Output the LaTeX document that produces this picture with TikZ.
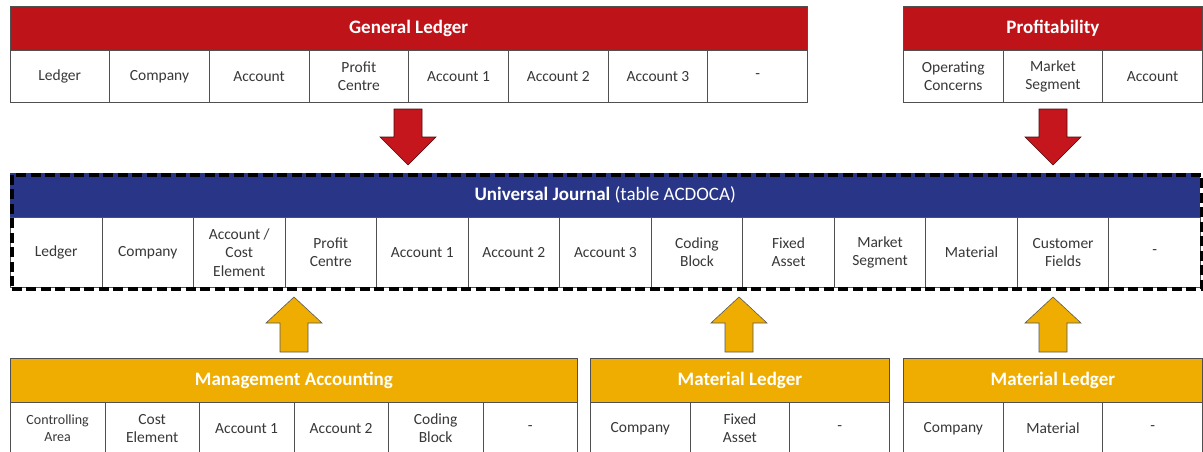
\documentclass[tikz,border=0pt]{standalone}
\usepackage{fontspec}
\setmainfont{Carlito}
\definecolor{glred}{RGB}{191,19,26}
\definecolor{arrred}{RGB}{196,22,28}
\definecolor{ujblue}{RGB}{41,54,136}
\definecolor{magold}{RGB}{238,173,0}
\definecolor{txt}{RGB}{56,56,56}
\definecolor{gridc}{RGB}{80,80,80}
\begin{document}
\begin{tikzpicture}[x=1pt,y=-1pt,
  hdr/.style={draw=gridc, line width=0.8pt, text=white, font=\fontsize{19}{23}\selectfont\bfseries, inner sep=0pt, anchor=north west},
  cell/.style={draw=gridc, line width=0.8pt, fill=white, text=txt, font=\fontsize{15.5}{18.5}\selectfont, align=center, inner sep=0pt, anchor=north west},
  smallcell/.style={cell, font=\fontsize{14}{16.5}\selectfont},
  redarrow/.style={fill=arrred, draw=black!60!arrred, line width=0.6pt, line join=miter},
  goldarrow/.style={fill=magold, draw=black!65, line width=0.6pt, line join=miter},
  dashbox/.style={draw=black, line width=3.6pt, dash pattern=on 10pt off 4.5pt}
]
\useasboundingbox (0,0) rectangle (1203,452);
\clip (0,0) rectangle (1203,452);

% ---------- General Ledger ----------
\node[hdr, fill=glred, minimum width=797.5pt, minimum height=44pt] (gl) at (9.5,6) {General Ledger};
\foreach \t [count=\i from 0] in {Ledger,Company,Account,{Profit\\Centre},Account 1,Account 2,Account 3,-}
  \node[cell, minimum width=99.7pt, minimum height=52pt] (gl\i) at (9.5+99.7*\i,50) {\t};

% ---------- Profitability ----------
\node[hdr, fill=glred, minimum width=299pt, minimum height=44pt] (pa) at (903,6) {Profitability};
\foreach \t [count=\i from 0] in {{Operating\\Concerns},{Market\\Segment},Account}
  \node[cell, minimum width=99.7pt, minimum height=52pt] (pa\i) at (903+99.7*\i,50) {\t};

% ---------- red arrows ----------
\foreach \cx/\nm in {408/ra1,1053/ra2}{
  \coordinate (\nm) at (\cx,109);
  \draw[redarrow] (\cx-14,109) -- (\cx+14,109) -- (\cx+14,137) -- (\cx+28,137) -- (\cx,165)
     -- (\cx-28,137) -- (\cx-14,137) -- cycle;
}

% ---------- Universal Journal ----------
\node[draw=none, fill=ujblue, minimum width=1190pt, minimum height=44pt, inner sep=0pt, anchor=north west,
      text=white, font=\fontsize{19}{23}\selectfont] (uj) at (10,173)
      {\textbf{Universal Journal} (table ACDOCA)};
\foreach \t [count=\i from 0] in {Ledger,Company,{Account /\\Cost\\Element},{Profit\\Centre},Account 1,Account 2,Account 3,{Coding\\Block},{Fixed\\Asset},{Market\\Segment},Material,{Customer\\Fields},-}
  \node[cell, minimum width=91.54pt, minimum height=70pt] (uj\i) at (10+91.54*\i,217) {\t};
\node[dashbox, minimum width=1190pt, minimum height=114pt, inner sep=0pt, anchor=north west] (ujbox) at (10,173) {};

% ---------- gold arrows ----------
\foreach \cx/\nm in {294/ga1,739/ga2,1053/ga3}{
  \coordinate (\nm) at (\cx,297);
  \draw[goldarrow] (\cx,297) -- (\cx+28,323) -- (\cx+14,323) -- (\cx+14,352) -- (\cx-14,352)
     -- (\cx-14,323) -- (\cx-28,323) -- cycle;
}

% ---------- Management Accounting ----------
\node[hdr, fill=magold, minimum width=567pt, minimum height=44pt] (ma) at (10,358) {Management Accounting};
\node[smallcell, minimum width=94.5pt, minimum height=52pt] (ma0) at (10,402) {Controlling\\Area};
\foreach \t [count=\i from 1] in {{Cost\\Element},Account 1,Account 2,{Coding\\Block},-}
  \node[cell, minimum width=94.5pt, minimum height=52pt] (ma\i) at (10+94.5*\i,402) {\t};

% ---------- Material Ledger (1) ----------
\node[hdr, fill=magold, minimum width=299pt, minimum height=44pt] (ml) at (590,358) {Material Ledger};
\foreach \t [count=\i from 0] in {Company,{Fixed\\Asset},-}
  \node[cell, minimum width=99.7pt, minimum height=52pt] (ml\i) at (590+99.7*\i,402) {\t};

% ---------- Material Ledger (2) ----------
\node[hdr, fill=magold, minimum width=299pt, minimum height=44pt] (mlb) at (903,358) {Material Ledger};
\foreach \t [count=\i from 0] in {Company,Material,-}
  \node[cell, minimum width=99.7pt, minimum height=52pt] (mlb\i) at (903+99.7*\i,402) {\t};
\end{tikzpicture}
\end{document}
